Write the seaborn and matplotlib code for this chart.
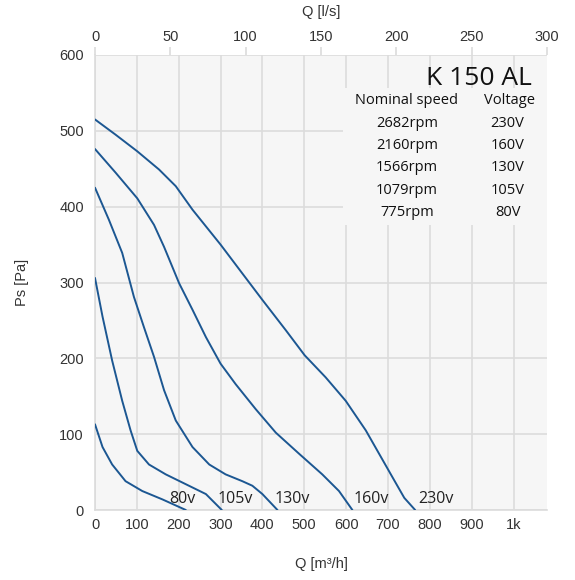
import numpy as np
import pandas as pd
import matplotlib.pyplot as plt
import seaborn as sns
from matplotlib.patches import Rectangle

# fan curves, Q in m3/h, Ps in Pa
q_230 = [0, 49, 101, 153, 193, 233, 300, 352, 400, 456, 501, 551, 599, 647, 679, 711, 739, 765]
p_230 = [515, 495, 473, 449, 427, 396, 350, 312, 277, 237, 204, 175, 144, 105, 74, 43, 16, 0]
q_160 = [0, 49, 101, 141, 165, 201, 233, 265, 300, 336, 384, 432, 488, 543, 583, 615]
p_160 = [476, 445, 411, 376, 347, 299, 264, 228, 193, 166, 133, 102, 74, 47, 25, 0]
q_130 = [0, 33, 65, 93, 117, 141, 165, 193, 233, 273, 312, 352, 376, 400, 436]
p_130 = [425, 383, 339, 281, 241, 202, 158, 118, 83, 60, 47, 38, 32, 21, 0]
q_105 = [0, 18, 41, 65, 85, 101, 129, 169, 217, 265, 303]
p_105 = [306, 255, 197, 144, 105, 78, 60, 47, 34, 21, 0]
q_80 = [0, 18, 41, 73, 113, 161, 217]
p_80 = [113, 83, 60, 38, 25, 14, 0]

curve_labels = ["230v", "160v", "130v", "105v", "80v"]
speeds = ["2682rpm", "2160rpm", "1566rpm", "1079rpm", "775rpm"]
voltages = ["230V", "160V", "130V", "105V", "80V"]
x_ticks = [0, 100, 200, 300, 400, 500, 600, 700, 800, 900, 1000]
x_ticklabels = ["0", "100", "200", "300", "400", "500", "600", "700", "800", "900", "1k"]
top_ticks = [0, 50, 100, 150, 200, 250, 300]

curves = [(q_230, p_230), (q_160, p_160), (q_130, p_130), (q_105, p_105), (q_80, p_80)]
label_x = [773, 617, 428, 294, 177]  # where the curve labels start

sns.set_theme(style="whitegrid")
plt.rcParams['font.family'] = ['Liberation Sans', 'DejaVu Sans']

line_col = "#1c5792"
bg_col = "#f6f6f6"
grid_col = "#dcdcdc"
txt_col = "#333333"
ofont = ['Open Sans', 'DejaVu Sans']

fig, ax = plt.subplots(figsize=(5.75, 5.8), dpi=100)
fig.subplots_adjust(left=95/575, right=547/575, bottom=1-510/580, top=1-55/580)
ax.set_facecolor(bg_col)

for (q, p), lab, lx in zip(curves, curve_labels, label_x):
    sns.lineplot(x=q, y=p, ax=ax, color=line_col, lw=1.4, sort=False, zorder=3)
    ax.text(lx, 14, lab, fontsize=11.5, family=ofont,
            color="#222222", ha='left', va='center', zorder=4)

ax.set_xlim(0, 1080)
ax.set_ylim(0, 600)
ax.set_xticks(x_ticks)
ax.set_xticklabels(x_ticklabels)
ax.set_yticks(range(0, 601, 100))
ax.grid(True, color=grid_col, lw=1.2)
ax.tick_params(axis='both', labelsize=10.5, colors=txt_col, length=0, pad=6)
ax.tick_params(axis='y', length=5, color=grid_col, width=1, pad=3)
for s in ['top', 'right']:
    ax.spines[s].set_visible(False)
for s in ['left', 'bottom']:
    ax.spines[s].set_color(grid_col)
    ax.spines[s].set_linewidth(1.2)

ax.set_xlabel("Q [m³/h]", fontsize=10.5, color=txt_col, labelpad=18)
ax.set_ylabel("Ps [Pa]", fontsize=10.5, color=txt_col, labelpad=22)

top = ax.secondary_xaxis('top', functions=(lambda q: q / 3.6, lambda l: l * 3.6))
top.set_xticks(top_ticks)
top.tick_params(labelsize=10.5, colors=txt_col, length=6, color=grid_col, width=1.2, pad=2)
top.spines['top'].set_visible(False)
top.set_xlabel("Q [l/s]", fontsize=10.5, color=txt_col, labelpad=10)

# info box
ax.add_patch(Rectangle((0.549, 0.626), 0.451, 0.301, transform=ax.transAxes,
                       facecolor=bg_col, edgecolor='none', zorder=2))
ax.text(0.967, 0.949, "K 150 AL", transform=ax.transAxes, fontsize=19, family=ofont,
        color="#111111", ha='right', va='center', zorder=4)
ax.text(0.690, 0.900, "Nominal speed", transform=ax.transAxes, fontsize=10.5, family=ofont,
        color="#111111", ha='center', va='center', zorder=4)
ax.text(0.918, 0.900, "Voltage", transform=ax.transAxes, fontsize=10.5, family=ofont,
        color="#111111", ha='center', va='center', zorder=4)
for i, (sp, v) in enumerate(zip(speeds, voltages)):
    y = 0.850 - i * 0.049
    ax.text(0.690, y, sp, transform=ax.transAxes, fontsize=10.5, family=ofont,
            color="#111111", ha='center', va='center', zorder=4)
    ax.text(0.913, y, v, transform=ax.transAxes, fontsize=10.5, family=ofont,
            color="#111111", ha='center', va='center', zorder=4)

fig.savefig("out.png", dpi=100, facecolor='white')
